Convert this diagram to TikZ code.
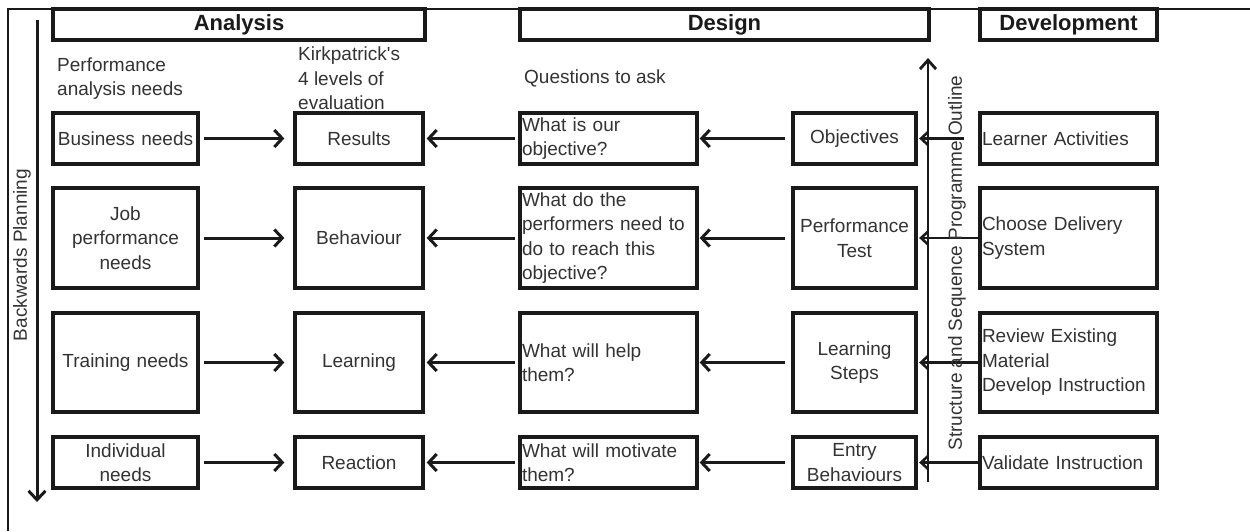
\documentclass[tikz,border=0pt]{standalone}
\usepackage{fontspec}
\setmainfont{Liberation Sans}[Ligatures=TeXOff]
\usetikzlibrary{arrows.meta}
\definecolor{ink}{HTML}{1A1A1A}
\definecolor{txt}{HTML}{333333}
\newcommand\bodyf{\fontsize{19}{24.5}\selectfont}
\newcommand\headf{\fontsize{22}{26}\selectfont\bfseries}
\begin{document}
\begin{tikzpicture}[x=1pt,y=-1pt,
  box/.style={draw=ink, line width=3.3pt, inner sep=2pt, font=\bodyf, text=txt},
  hbox/.style={draw=ink, line width=3.3pt, inner sep=0pt, font=\headf, text=ink, minimum height=31pt},
  lbl/.style={inner sep=0pt, font=\bodyf, text=txt, align=left, anchor=north west},
  conn/.style={draw=ink, line width=3pt, -{Straight Barb[length=8pt,width=17pt]}},
  thin conn/.style={draw=ink, line width=2.6pt, -{Straight Barb[length=7pt,width=13pt]}}
]
\useasboundingbox (0,0) rectangle (1250,531);
\fill[white] (0,0) rectangle (1250,531);
% outer frame
\draw[ink, line width=2.8pt] (8,531) -- (8,9) -- (1250,9);

% headers
\node[hbox, minimum width=372pt] (hA) at (239,24.5) {Analysis};
\node[hbox, minimum width=409pt] (hD) at (724.5,24.5) {Design};
\node[hbox, minimum width=177pt] (hE) at (1068.5,24.5) {Development};

% column labels
\node[lbl] (lA) at (57,57.5) {Performance\\analysis needs};
\node[lbl] (lB) at (298,47) {Kirkpatrick's\\4 levels of\\evaluation};
\node[lbl] (lC) at (524,70) {Questions to ask};

% column A
\node[box, minimum width=145pt, minimum height=51pt, text width=141pt, align=center] (a1) at (125.5,138.5) {Business needs};
\node[box, minimum width=145pt, minimum height=100pt, text width=141pt, align=center] (a2) at (125.5,238) {Job\\performance\\needs};
\node[box, minimum width=145pt, minimum height=99pt, text width=141pt, align=center] (a3) at (125.5,362.5) {Training needs};
\node[box, minimum width=145pt, minimum height=51pt, text width=141pt, align=center] (a4) at (125.5,462.5) {Individual\\needs};

% column B
\node[box, minimum width=128pt, minimum height=51pt, text width=124pt, align=center] (b1) at (359,138.5) {Results};
\node[box, minimum width=128pt, minimum height=100pt, text width=124pt, align=center] (b2) at (359,238) {Behaviour};
\node[box, minimum width=128pt, minimum height=99pt, text width=124pt, align=center] (b3) at (359,362.5) {Learning};
\node[box, minimum width=128pt, minimum height=51pt, text width=124pt, align=center] (b4) at (359,462.5) {Reaction};

% column C
\node[box, minimum width=177pt, minimum height=51pt, text width=173pt, align=left] (c1) at (608.5,138.5) {What is our\\objective?};
\node[box, minimum width=177pt, minimum height=100pt, text width=173pt, align=left] (c2) at (608.5,238) {What do the\\performers need to\\do to reach this\\objective?};
\node[box, minimum width=177pt, minimum height=99pt, text width=173pt, align=left] (c3) at (608.5,362.5) {What will help\\them?};
\node[box, minimum width=177pt, minimum height=51pt, text width=173pt, align=left] (c4) at (608.5,462.5) {What will motivate\\them?};

% column D
\node[box, minimum width=123pt, minimum height=51pt, text width=119pt, align=center] (d1) at (854.5,138.5) {Objectives};
\node[box, minimum width=123pt, minimum height=100pt, text width=119pt, align=center] (d2) at (854.5,238) {Performance\\Test};
\node[box, minimum width=123pt, minimum height=99pt, text width=119pt, align=center] (d3) at (854.5,362.5) {Learning\\Steps};
\node[box, minimum width=123pt, minimum height=51pt, text width=119pt, align=center] (d4) at (854.5,462.5) {Entry\\Behaviours};

% column E
\node[box, minimum width=177pt, minimum height=51pt, text width=173pt, align=left] (e1) at (1068.5,138.5) {Learner Activities};
\node[box, minimum width=177pt, minimum height=100pt, text width=173pt, align=left] (e2) at (1068.5,238) {Choose Delivery\\System};
\node[box, minimum width=177pt, minimum height=99pt, text width=173pt, align=left] (e3) at (1068.5,362.5) {Review Existing\\Material\\Develop Instruction};
\node[box, minimum width=177pt, minimum height=51pt, text width=173pt, align=left] (e4) at (1068.5,462.5) {Validate Instruction};

% A -> B
\foreach \i in {1,2,3,4}{
  \draw[conn, shorten <=4pt, shorten >=9pt] (a\i.east) -- (b\i.west);
}
% C -> B
\foreach \i in {1,2,3,4}{
  \draw[conn, shorten <=3pt, shorten >=2pt] (c\i.west) -- (b\i.east);
}
% D -> C
\foreach \i in {1,2,3,4}{
  \draw[conn, shorten <=6pt, shorten >=1pt] (d\i.west) -- (c\i.east);
}
% E -> D
\draw[thin conn, shorten <=14pt, shorten >=1.5pt] (e1.west) -- (d1.east);
\foreach \i in {2,3,4}{
  \draw[thin conn, shorten >=1.5pt] (e\i.west) -- (d\i.east);
}

% structure and sequence axis
\coordinate (sTop) at (928,58);
\coordinate (sBot) at (928,482);
\draw[draw=ink, line width=2.8pt, -{Straight Barb[length=9pt,width=16pt]}] (sBot) -- (sTop);
\node[inner sep=0pt, font=\bodyf, text=txt, rotate=90] (sLbl) at (957,263) {Structure and Sequence Programme Outline};

% backwards planning
\coordinate (bTop) at (37,20);
\coordinate (bBot) at (37,502);
\draw[draw=ink, line width=3pt, -{Straight Barb[length=9pt,width=17pt]}] (bTop) -- (bBot);
\node[inner sep=0pt, font=\bodyf, text=txt, rotate=90] (bLbl) at (22,255) {Backwards Planning};
\end{tikzpicture}
\end{document}
